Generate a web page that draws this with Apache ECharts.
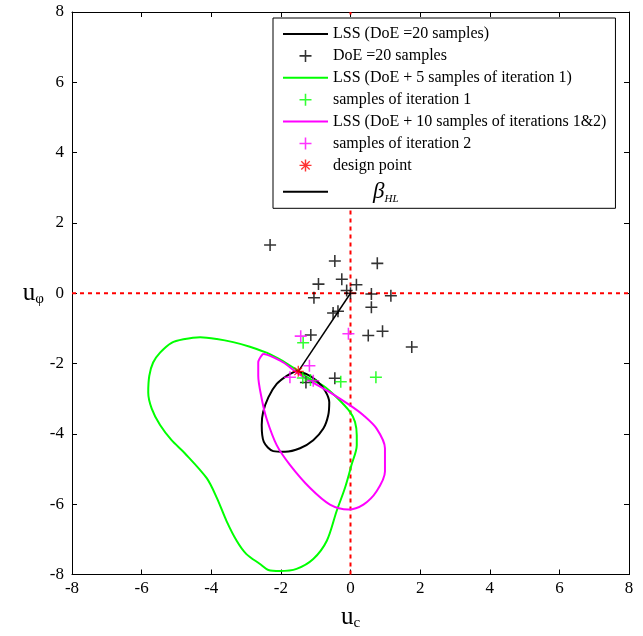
<!DOCTYPE html>
<html>
<head>
<meta charset="utf-8">
<script src="https://cdn.jsdelivr.net/npm/echarts@6/dist/echarts.min.js"></script>
<style>
  html, body { margin: 0; padding: 0; background: #fff; }
  #main { width: 643px; height: 636px; }
</style>
</head>
<body>
<div id="main"></div>
<script>
// ticks
const ticks = [-8, -6, -4, -2, 0, 2, 4, 6, 8];

// LSS with the 20 DoE samples (black)
const lssDoe = [
  [-1.55, -2.21], [-1.26, -2.30], [-0.97, -2.49], [-0.73, -2.77], [-0.61, -3.10],
  [-0.64, -3.47], [-0.78, -3.85], [-1.07, -4.18], [-1.45, -4.41], [-1.88, -4.51],
  [-2.22, -4.49], [-2.49, -4.23], [-2.55, -3.75], [-2.51, -3.38], [-2.36, -2.96],
  [-2.12, -2.58], [-1.83, -2.35], [-1.55, -2.21]
];

// LSS after iteration 1 (green)
const lssIter1 = [
  [-2.41, -1.69], [-2.89, -1.52], [-3.37, -1.39], [-3.84, -1.30], [-4.32, -1.25],
  [-4.80, -1.31], [-5.14, -1.41], [-5.47, -1.69], [-5.67, -1.97], [-5.78, -2.35],
  [-5.81, -2.82], [-5.71, -3.28], [-5.47, -3.75], [-5.14, -4.18], [-4.76, -4.55],
  [-4.13, -5.26], [-3.84, -5.82], [-3.56, -6.48], [-3.27, -7.04], [-2.99, -7.42],
  [-2.60, -7.70], [-2.36, -7.87], [-2.03, -7.90], [-1.55, -7.84], [-1.07, -7.56],
  [-0.68, -7.04], [-0.40, -6.20], [-0.16, -5.54], [0.03, -4.88], [0.18, -4.32],
  [0.18, -4.04], [0.13, -3.66], [-0.01, -3.38], [-0.40, -2.96], [-0.78, -2.63],
  [-1.16, -2.44], [-1.50, -2.21], [-2.03, -1.88], [-2.41, -1.69]
];

// LSS after iterations 1&2 (magenta)
const lssIter2 = [
  [-2.51, -1.72], [-2.65, -1.97], [-2.65, -2.35], [-2.55, -3.00], [-2.41, -3.57],
  [-2.12, -4.32], [-1.74, -4.88], [-1.16, -5.54], [-0.59, -6.01], [-0.06, -6.15],
  [0.37, -6.01], [0.75, -5.63], [0.99, -5.07], [0.99, -4.41], [0.75, -3.85],
  [0.37, -3.47], [-0.01, -3.19], [-0.59, -2.82], [-1.16, -2.49], [-1.55, -2.25],
  [-1.93, -1.97], [-2.31, -1.78], [-2.51, -1.72]
];

const doeSamples = [
  [-2.31, 1.37], [-0.45, 0.92], [0.77, 0.85], [-0.92, 0.26], [-0.25, 0.40],
  [0.17, 0.24], [-0.11, 0.08], [-1.05, -0.13], [0.60, -0.02], [1.16, -0.07],
  [0.60, -0.40], [-0.50, -0.56], [-0.36, -0.51], [-1.14, -1.19], [0.51, -1.20],
  [0.92, -1.08], [1.76, -1.53], [-1.28, -2.54], [-0.45, -2.42], [0.0, 0.0]
];
const iter1Samples = [[-1.36, -1.41], [-1.37, -2.41], [-0.28, -2.52], [0.73, -2.39], [-1.15, -2.47]];
const iter2Samples = [[-1.43, -1.22], [-0.06, -1.15], [-1.18, -2.06], [-1.74, -2.39], [-1.07, -2.49]];
const designPoint = [[-1.50, -2.22]];
const betaLine = [[0, 0], [-1.50, -2.22]];

const vAxisRef = [[0, -8], [0, 8]];
const hAxisRef = [[-8, 0], [8, 0]];

const plusPath = 'path://M-1.3,-10 H1.3 V-1.3 H10 V1.3 H1.3 V10 H-1.3 V1.3 H-10 V-1.3 H-1.3 Z';
const starPath = 'path://M-1.2,-10 H1.2 V-1.2 H10 V1.2 H1.2 V10 H-1.2 V1.2 H-10 V-1.2 H-1.2 Z M-7.8,-6.2 L-6.2,-7.8 L0,-1.6 L6.2,-7.8 L7.8,-6.2 L1.6,0 L7.8,6.2 L6.2,7.8 L0,1.6 L-6.2,7.8 L-7.8,6.2 L-1.6,0 Z';

const serif = '"Liberation Serif", "Times New Roman", serif';

const chart = echarts.init(document.getElementById('main'));

function makeAxis(pos, isX, showLabel) {
  return {
    type: 'value',
    position: pos,
    min: -8, max: 8, interval: 2,
    axisLine: { show: true, onZero: false, lineStyle: { color: '#000', width: 1 } },
    axisTick: { show: true, inside: true, length: 5, lineStyle: { color: '#000' } },
    axisLabel: {
      show: showLabel,
      color: '#000',
      fontFamily: serif,
      fontSize: 17,
      margin: isX ? 6 : 8
    },
    splitLine: { show: false }
  };
}

const nameStyle = {
  color: '#000', fontFamily: serif,
  rich: {
    u: { fontSize: 25, fontFamily: serif, color: '#000', lineHeight: 26 },
    s: { fontSize: 15, fontFamily: serif, color: '#000', padding: [12, 0, 0, 0], lineHeight: 26 }
  }
};

const xMain = makeAxis('bottom', true, true);
xMain.name = '{u|u}{s|c}';
xMain.nameLocation = 'middle';
xMain.nameGap = 30;
xMain.nameTextStyle = nameStyle;

const yMain = makeAxis('left', false, true);
yMain.name = '{u|u}{s|φ}';
yMain.nameLocation = 'middle';
yMain.nameRotate = 0;
yMain.nameGap = 26;
yMain.nameTextStyle = nameStyle;

const lineIcon = 'path://M0,0 H45 V2 H0 Z';

const option = {
  backgroundColor: '#fff',
  animation: false,
  grid: { left: 72, right: 14, top: 12, bottom: 55, containLabel: false },
  xAxis: [xMain, makeAxis('top', true, false)],
  yAxis: [yMain, makeAxis('right', false, false)],
  legend: {
    orient: 'vertical',
    left: 273,
    top: 18,
    padding: [8, 9, 4, 10],
    itemWidth: 45,
    itemHeight: 12,
    itemGap: 5.9,
    backgroundColor: '#fff',
    borderColor: '#000',
    borderWidth: 1,
    borderRadius: 0,
    textStyle: {
      fontFamily: serif, fontSize: 16, color: '#000', lineHeight: 14,
      rich: {
        b: { fontFamily: serif, fontSize: 23, fontStyle: 'italic', color: '#000', lineHeight: 16 },
        h: { fontFamily: serif, fontSize: 11, fontStyle: 'italic', color: '#000', padding: [14, 0, 0, 0], lineHeight: 16 }
      }
    },
    formatter: function (name) {
      if (name === 'beta') return '          {b|β}{h|HL}';
      return name;
    },
    data: [
      { name: 'LSS (DoE =20 samples)', icon: lineIcon },
      { name: 'DoE =20 samples' },
      { name: 'LSS (DoE + 5 samples of iteration 1)', icon: lineIcon },
      { name: 'samples of iteration 1' },
      { name: 'LSS (DoE + 10 samples of iterations 1&2)', icon: lineIcon },
      { name: 'samples of iteration 2' },
      { name: 'design point' },
      { name: 'beta', icon: lineIcon }
    ]
  },
  series: [
    {
      type: 'line', data: vAxisRef, symbol: 'none', silent: true,
      lineStyle: { color: '#ff0000', width: 2, type: [4, 4] }, z: 1
    },
    {
      type: 'line', data: hAxisRef, symbol: 'none', silent: true,
      lineStyle: { color: '#ff0000', width: 2, type: [4, 4] }, z: 1
    },
    {
      name: 'LSS (DoE =20 samples)', type: 'line', data: lssDoe, symbol: 'none',
      smooth: 0.3, lineStyle: { color: '#000', width: 2 }, itemStyle: { color: '#000' }, z: 3
    },
    {
      name: 'DoE =20 samples', type: 'scatter', data: doeSamples, symbol: plusPath,
      symbolSize: 12, itemStyle: { color: '#000' }, z: 5
    },
    {
      name: 'LSS (DoE + 5 samples of iteration 1)', type: 'line', data: lssIter1, symbol: 'none',
      smooth: 0.3, lineStyle: { color: '#00ff00', width: 2 }, itemStyle: { color: '#00ff00' }, z: 2
    },
    {
      name: 'samples of iteration 1', type: 'scatter', data: iter1Samples, symbol: plusPath,
      symbolSize: 12, itemStyle: { color: '#00ff00' }, z: 5
    },
    {
      name: 'LSS (DoE + 10 samples of iterations 1&2)', type: 'line', data: lssIter2, symbol: 'none',
      smooth: 0.3, lineStyle: { color: '#ff00ff', width: 2 }, itemStyle: { color: '#ff00ff' }, z: 3
    },
    {
      name: 'samples of iteration 2', type: 'scatter', data: iter2Samples, symbol: plusPath,
      symbolSize: 12, itemStyle: { color: '#ff00ff' }, z: 5
    },
    {
      name: 'design point', type: 'scatter', data: designPoint, symbol: starPath,
      symbolSize: 11, itemStyle: { color: '#ff0000' }, z: 6
    },
    {
      name: 'beta', type: 'line', data: betaLine, symbol: 'none',
      lineStyle: { color: '#000', width: 1.5 }, itemStyle: { color: '#000' }, z: 4
    }
  ]
};

chart.setOption(option);
</script>
</body>
</html>
